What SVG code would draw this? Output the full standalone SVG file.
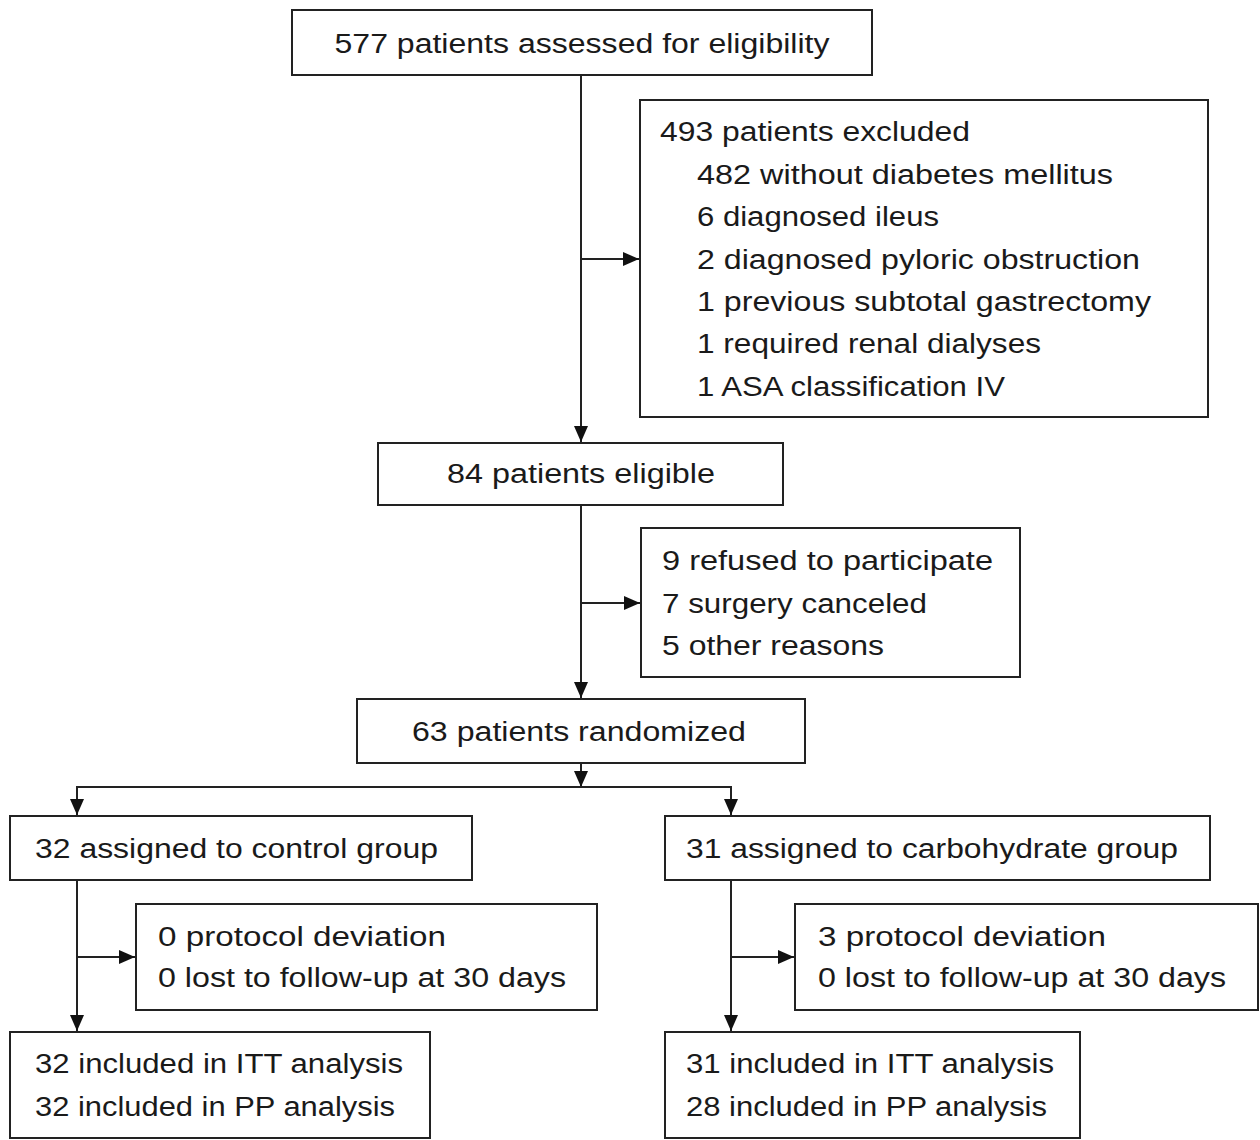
<svg xmlns="http://www.w3.org/2000/svg" width="1260" height="1140" viewBox="0 0 1260 1140">
<style>
.box{fill:#fff;stroke:#222;stroke-width:2}
.t{font-family:"Liberation Sans",Arial,sans-serif;font-size:27px;fill:#1a1a1a}
.c{text-anchor:middle}
.ln{fill:none;stroke:#222;stroke-width:2}
</style>
<defs>
<marker id="ah" viewBox="0 0 16 14" refX="16" refY="7" markerWidth="16" markerHeight="14" markerUnits="userSpaceOnUse" orient="auto">
<path d="M0,0 L16,7 L0,14 Z" fill="#111"/>
</marker>
</defs>
<rect width="1260" height="1140" fill="#fff"/>
<g id="connectors">
<line class="ln" x1="581" y1="75" x2="581" y2="442" marker-end="url(#ah)"/>
<line class="ln" x1="581" y1="259" x2="639" y2="259" marker-end="url(#ah)"/>
<line class="ln" x1="581" y1="505" x2="581" y2="698" marker-end="url(#ah)"/>
<line class="ln" x1="581" y1="603" x2="640" y2="603" marker-end="url(#ah)"/>
<line class="ln" x1="581" y1="763" x2="581" y2="787" marker-end="url(#ah)"/>
<polyline class="ln" points="77,800 77,787 731,787 731,800"/>
<line class="ln" x1="77" y1="787" x2="77" y2="815" marker-end="url(#ah)"/>
<line class="ln" x1="731" y1="787" x2="731" y2="815" marker-end="url(#ah)"/>
<line class="ln" x1="77" y1="880" x2="77" y2="1031" marker-end="url(#ah)"/>
<line class="ln" x1="77" y1="957" x2="135" y2="957" marker-end="url(#ah)"/>
<line class="ln" x1="731" y1="880" x2="731" y2="1031" marker-end="url(#ah)"/>
<line class="ln" x1="731" y1="957" x2="794" y2="957" marker-end="url(#ah)"/>
</g>
<g id="assessed">
<rect class="box" x="292" y="10" width="580" height="65"/>
<text class="t c" x="582" y="53" textLength="495" lengthAdjust="spacingAndGlyphs">577 patients assessed for eligibility</text>
</g>
<g id="excluded">
<rect class="box" x="640" y="100" width="568" height="317"/>
<text class="t" x="660" y="141" textLength="310" lengthAdjust="spacingAndGlyphs">493 patients excluded</text>
<text class="t" x="697" y="184" textLength="416" lengthAdjust="spacingAndGlyphs">482 without diabetes mellitus</text>
<text class="t" x="697" y="226" textLength="242" lengthAdjust="spacingAndGlyphs">6 diagnosed ileus</text>
<text class="t" x="697" y="269" textLength="443" lengthAdjust="spacingAndGlyphs">2 diagnosed pyloric obstruction</text>
<text class="t" x="697" y="311" textLength="454" lengthAdjust="spacingAndGlyphs">1 previous subtotal gastrectomy</text>
<text class="t" x="697" y="353" textLength="344" lengthAdjust="spacingAndGlyphs">1 required renal dialyses</text>
<text class="t" x="697" y="396" textLength="308" lengthAdjust="spacingAndGlyphs">1 ASA classification IV</text>
</g>
<g id="eligible">
<rect class="box" x="378" y="443" width="405" height="62"/>
<text class="t c" x="581" y="483" textLength="268" lengthAdjust="spacingAndGlyphs">84 patients eligible</text>
</g>
<g id="notrandomized">
<rect class="box" x="641" y="528" width="379" height="149"/>
<text class="t" x="662" y="570" textLength="331" lengthAdjust="spacingAndGlyphs">9 refused to participate</text>
<text class="t" x="662" y="613" textLength="265" lengthAdjust="spacingAndGlyphs">7 surgery canceled</text>
<text class="t" x="662" y="655" textLength="222" lengthAdjust="spacingAndGlyphs">5 other reasons</text>
</g>
<g id="randomized">
<rect class="box" x="357" y="699" width="448" height="64"/>
<text class="t c" x="579" y="741" textLength="334" lengthAdjust="spacingAndGlyphs">63 patients randomized</text>
</g>
<g id="control">
<rect class="box" x="10" y="816" width="462" height="64"/>
<text class="t" x="35" y="858" textLength="403" lengthAdjust="spacingAndGlyphs">32 assigned to control group</text>
</g>
<g id="carbohydrate">
<rect class="box" x="665" y="816" width="545" height="64"/>
<text class="t" x="686" y="858" textLength="492" lengthAdjust="spacingAndGlyphs">31 assigned to carbohydrate group</text>
</g>
<g id="control-dev">
<rect class="box" x="136" y="904" width="461" height="106"/>
<text class="t" x="158" y="946" textLength="288" lengthAdjust="spacingAndGlyphs">0 protocol deviation</text>
<text class="t" x="158" y="987" textLength="408" lengthAdjust="spacingAndGlyphs">0 lost to follow-up at 30 days</text>
</g>
<g id="carb-dev">
<rect class="box" x="795" y="904" width="463" height="106"/>
<text class="t" x="818" y="946" textLength="288" lengthAdjust="spacingAndGlyphs">3 protocol deviation</text>
<text class="t" x="818" y="987" textLength="408" lengthAdjust="spacingAndGlyphs">0 lost to follow-up at 30 days</text>
</g>
<g id="control-analysis">
<rect class="box" x="10" y="1032" width="420" height="106"/>
<text class="t" x="35" y="1073" textLength="368" lengthAdjust="spacingAndGlyphs">32 included in ITT analysis</text>
<text class="t" x="35" y="1116" textLength="360" lengthAdjust="spacingAndGlyphs">32 included in PP analysis</text>
</g>
<g id="carb-analysis">
<rect class="box" x="665" y="1032" width="415" height="106"/>
<text class="t" x="686" y="1073" textLength="368" lengthAdjust="spacingAndGlyphs">31 included in ITT analysis</text>
<text class="t" x="686" y="1116" textLength="361" lengthAdjust="spacingAndGlyphs">28 included in PP analysis</text>
</g>
</svg>
